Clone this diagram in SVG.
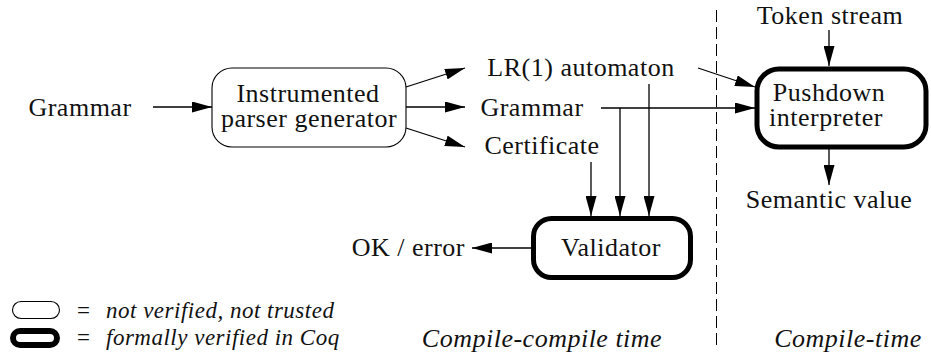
<svg xmlns="http://www.w3.org/2000/svg" width="931" height="355" viewBox="0 0 931 355">
<defs>
<marker id="ah" markerWidth="20" markerHeight="11" refX="20" refY="5.5" orient="auto" markerUnits="userSpaceOnUse"><path d="M0,0 L20,5.5 L0,11 z" fill="#000"/></marker>
<style>
.it{font-style:italic}
.m{text-anchor:middle}
.thin{fill:#fff;stroke:#000;stroke-width:1.1}
.thick{fill:#fff;stroke:#000;stroke-width:5}
.c{fill:none;stroke:#000;stroke-width:1.3}
.ar{marker-end:url(#ah)}
.dash{fill:none;stroke:#000;stroke-width:1;stroke-dasharray:12 5}
</style>
</defs>
<line class="dash" x1="716.5" y1="10" x2="716.5" y2="346"/>
<g id="connectors">
<line class="c ar" x1="153" y1="107" x2="212" y2="107"/>
<line class="c ar" x1="406" y1="87" x2="465" y2="68"/>
<line class="c ar" x1="406" y1="107" x2="465" y2="107"/>
<line class="c ar" x1="406" y1="128" x2="465" y2="147"/>
<line class="c ar" x1="698" y1="68" x2="755" y2="87"/>
<line class="c ar" x1="601" y1="108" x2="755" y2="108"/>
<path class="c ar" d="M620,108 V216"/>
<line class="c ar" x1="649" y1="84" x2="649" y2="216"/>
<line class="c ar" x1="591" y1="162" x2="591" y2="216"/>
<line class="c ar" x1="531" y1="248" x2="472" y2="248"/>
<line class="c ar" x1="829" y1="30" x2="829" y2="66"/>
<line class="c ar" x1="829" y1="147" x2="829" y2="185"/>
</g>
<g font-family="Liberation Serif" font-size="26" fill="#111" letter-spacing="0.5">
<g id="grammar-in"><text class="m" x="80" y="116">Grammar</text></g>
<g id="generator">
<rect class="thin" x="212" y="68" width="194" height="79" rx="20"/>
<text class="m" x="308" y="102">Instrumented</text>
<text class="m" x="309" y="127">parser generator</text>
</g>
<g id="lr1"><text class="m" x="581" y="76">LR(1) automaton</text></g>
<g id="grammar-out"><text class="m" x="532" y="116">Grammar</text></g>
<g id="certificate"><text class="m" x="542" y="154">Certificate</text></g>
<g id="token-stream"><text class="m" x="830" y="24">Token stream</text></g>
<g id="pushdown">
<rect class="thick" x="757" y="69" width="169" height="78" rx="22"/>
<text class="m" x="829" y="101">Pushdown</text>
<text class="m" x="826" y="126">interpreter</text>
</g>
<g id="semantic-value"><text class="m" x="829" y="208">Semantic value</text></g>
<g id="validator">
<rect class="thick" x="533.5" y="218.5" width="157" height="59" rx="18"/>
<text class="m" x="611" y="256">Validator</text>
</g>
<g id="ok-error"><text x="465" y="256" text-anchor="end">OK / error</text></g>
<g id="legend" font-size="23">
<rect class="thin" x="12.5" y="301.5" width="47" height="17" rx="8.5"/>
<text x="77" y="318">=</text>
<text class="it" x="106" y="318">not verified, not trusted</text>
<rect x="13" y="331" width="44" height="14" rx="7" fill="#fff" stroke="#000" stroke-width="6"/>
<text x="77" y="345">=</text>
<text class="it" x="106" y="345">formally verified in Coq</text>
</g>
<g id="phases">
<text class="it m" x="542" y="347">Compile-compile time</text>
<text class="it m" x="848" y="347">Compile-time</text>
</g>
</g>
</svg>
